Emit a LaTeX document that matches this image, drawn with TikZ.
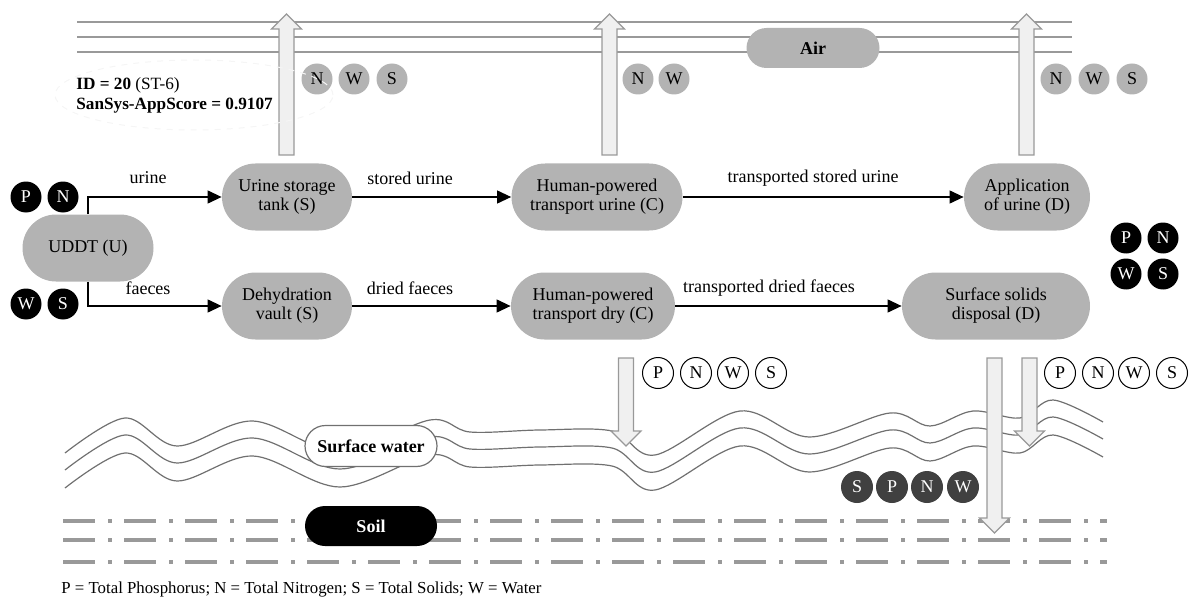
\documentclass[tikz,border=0pt]{standalone}
\usepackage{fontspec}
\setmainfont{Liberation Serif}
\usetikzlibrary{shapes.misc,arrows.meta}
\definecolor{nodegray}{HTML}{B3B3B3}
\definecolor{arrowfill}{HTML}{F0F0F0}
\definecolor{linegray}{HTML}{999999}
\definecolor{wavegray}{HTML}{707070}
\definecolor{darkc}{HTML}{404040}
\newcommand\myfs{\fontsize{9}{9.5}\selectfont}
\newcommand\upflow[3]{%
  \path[flow] (#1-7.5,#2) -- (#1-7.5,#3+15) -- (#1-15,#3+15) -- (#1,#3) -- (#1+15,#3+15) -- (#1+7.5,#3+15) -- (#1+7.5,#2) -- cycle;}
\newcommand\downflow[3]{%
  \path[flow] (#1-7.5,#2) -- (#1-7.5,#3-15) -- (#1-15,#3-15) -- (#1,#3) -- (#1+15,#3-15) -- (#1+7.5,#3-15) -- (#1+7.5,#2) -- cycle;}
\begin{document}
\begin{tikzpicture}[x=0.5pt,y=-0.5pt,
  proc/.style={rounded rectangle, fill=nodegray, minimum height=33.5pt, inner sep=1pt, align=center, font=\myfs},
  circ/.style={circle, minimum size=15.5pt, inner sep=0pt, font=\myfs},
  graycirc/.style={circ, fill=nodegray},
  blackcirc/.style={circ, fill=black, text=white},
  whitecirc/.style={circ, draw=black, line width=0.5pt, fill=white},
  darkcirc/.style={circ, fill=darkc, text=white, minimum size=16pt},
  lbl/.style={font=\myfs, inner sep=1pt},
  edge/.style={line width=0.6pt, -{Triangle[length=7pt,width=6.5pt]}},
  flow/.style={fill=arrowfill, draw=linegray, line width=0.6pt},
  airline/.style={draw=linegray, line width=1pt},
  wave/.style={draw=wavegray, line width=0.6pt},
  soilline/.style={draw=linegray, line width=2pt, dash pattern=on 16pt off 6.5pt on 2pt off 6pt},
  envnode/.style={rounded rectangle, minimum width=68pt, minimum height=20pt, inner sep=1pt, font=\myfs\bfseries}
]
\path[use as bounding box] (0,0) rectangle (1189,599);

% Air layer
\foreach \yy in {22,37,52} \draw[airline] (77,\yy) -- (1072,\yy);
\node[envnode, fill=nodegray, minimum width=68.5pt] (air) at (813,48) {Air};

% up arrows
\upflow{286.5}{155}{14}
\upflow{609.5}{155}{14}
\upflow{1026.5}{155}{14}

% emissions to air
\node[graycirc] (a1n) at (317,79) {N};
\node[graycirc] (a1w) at (354,79) {W};
\node[graycirc] (a1s) at (392,79) {S};
\node[graycirc] (a2n) at (638,79) {N};
\node[graycirc] (a2w) at (674,79) {W};
\node[graycirc] (a3n) at (1056,79) {N};
\node[graycirc] (a3w) at (1094,79) {W};
\node[graycirc] (a3s) at (1132,79) {S};

% ID box
\draw[gray!8, dashed, line width=0.5pt] (194,95) ellipse [x radius=69.5pt, y radius=17.5pt];
\node[font=\fontsize{8.6}{9.5}\selectfont, align=left, anchor=west, inner sep=0pt] (id) at (76,95)
  {\textbf{ID = 20} (ST-6)\\[0.5pt]\textbf{SanSys-AppScore = 0.9107}};

% process nodes
\node[proc, minimum width=67.5pt] (uddt) at (88,248) {UDDT (U)};
\node[proc, minimum width=67pt] (ust) at (287,197) {Urine storage\\tank (S)};
\node[proc, minimum width=67pt] (dv) at (287,306) {Dehydration\\vault (S)};
\node[proc, minimum width=87.5pt] (hpu) at (597,197) {Human-powered\\transport urine (C)};
\node[proc, minimum width=84pt] (hpd) at (593,306) {Human-powered\\transport dry (C)};
\node[proc, minimum width=65pt] (app) at (1027,197) {Application\\of urine (D)};
\node[proc, minimum width=96pt] (ssd) at (996,306) {Surface solids\\disposal (D)};

% flows
\draw[edge] (uddt.north) |- (ust.west);
\draw[edge] (uddt.south) |- (dv.west);
\draw[edge] (ust.east) -- (hpu.west);
\draw[edge] (dv.east) -- (hpd.west);
\draw[edge] (hpu.east) -- (app.west);
\draw[edge] (hpd.east) -- (ssd.west);
\node[lbl] (l1) at (148,178) {urine};
\node[lbl] (l2) at (148,288) {faeces};
\node[lbl] (l3) at (410,178) {stored urine};
\node[lbl] (l4) at (410,288) {dried faeces};
\node[lbl] (l5) at (813,178) {transported stored urine};
\node[lbl] (l6) at (769,288) {transported dried faeces};

% input circles
\node[blackcirc] (iP) at (26,197) {P};
\node[blackcirc] (iN) at (63,197) {N};
\node[blackcirc] (iW) at (26,304) {W};
\node[blackcirc] (iS) at (63,304) {S};
\node[blackcirc] (oP) at (1126,238) {P};
\node[blackcirc] (oN) at (1163,238) {N};
\node[blackcirc] (oW) at (1126,274) {W};
\node[blackcirc] (oS) at (1163,274) {S};

% surface water
\foreach \dy in {0,17,35}
  \draw[wave, shift={(0,\dy)}] plot[smooth, tension=0.55] coordinates {
    (65,453) (125,418) (177,446) (253,421) (340,452) (430,420) (470,432)
    (540,430) (612,431) (655,455) (740,411) (809,437) (890,413) (930,426)
    (973,411) (1020,418) (1053,400) (1103,422)};
\node[envnode, fill=white, draw=wavegray, line width=0.6pt, minimum height=20.5pt] (sw) at (371,446) {Surface water};

% soil
\foreach \yy in {521,540,562} \draw[soilline] (63,\yy) -- (1107,\yy);
\node[envnode, fill=black, text=white] (soil) at (371,526) {Soil};

% down arrows
\downflow{626}{358}{446}
\downflow{994.5}{358}{533}
\downflow{1029.5}{358}{446}

\node[whitecirc] (w1p) at (658,373) {P};
\node[whitecirc] (w1n) at (696,373) {N};
\node[whitecirc] (w1w) at (733,373) {W};
\node[whitecirc] (w1s) at (771,373) {S};
\node[whitecirc] (w2p) at (1060,373) {P};
\node[whitecirc] (w2n) at (1098,373) {N};
\node[whitecirc] (w2w) at (1134,373) {W};
\node[whitecirc] (w2s) at (1172,373) {S};

\node[darkcirc] (dS) at (857,487) {S};
\node[darkcirc] (dP) at (892,487) {P};
\node[darkcirc] (dN) at (927,487) {N};
\node[darkcirc] (dW) at (963,487) {W};

% legend
\node[font=\fontsize{8.4}{9.5}\selectfont, anchor=west, inner sep=0pt] (legend) at (61,589)
  {P = Total Phosphorus; N = Total Nitrogen; S = Total Solids; W = Water};
\end{tikzpicture}
\end{document}
